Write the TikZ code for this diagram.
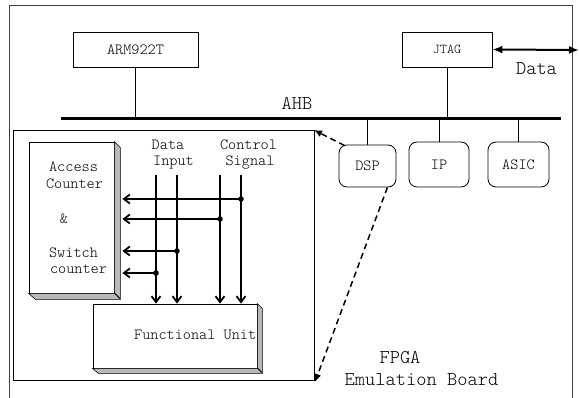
\documentclass[tikz,border=0pt]{standalone}
\usepackage{tikz}
\usetikzlibrary{arrows.meta,calc,positioning}
\newcommand{\thinmono}{\ttfamily\fontseries{l}\selectfont}
\tikzset{%
      plainbox/.style = { draw, line width=0.8pt, font=\thinmono\fontsize{15.5}{16}\selectfont },
      roundbox/.style = { plainbox, rounded corners=8pt, minimum height=45pt },
      solidbox/.style = { draw, fill=white, line width=0.8pt },
      sidefill/.style = { draw, fill=gray!55, line width=0.6pt },
           bus/.style = { line width=3pt },
          stub/.style = { line width=0.8pt },
           sig/.style = { line width=1.8pt, -{Straight Barb[length=6pt,width=9pt]} },
          link/.style = { line width=1.5pt, dash pattern=on 6pt off 4pt, -{Latex[length=8pt,width=7pt]} },
          dual/.style = { line width=2pt, {Latex[length=10pt,width=8pt]}-{Latex[length=10pt,width=8pt]} },
         small/.style = { font=\thinmono\fontsize{15.5}{16}\selectfont, inner sep=0pt },
         large/.style = { font=\thinmono\fontsize{19.5}{20}\selectfont, inner sep=0pt }
}

\begin{document}
\begin{tikzpicture}[x=1pt,y=-1pt,line cap=butt,line join=miter]
\useasboundingbox (0,0) rectangle (579,398);
% board frame (open at the bottom)
\draw[line width=0.9pt,black!75] (9,398) -- (9,5) -- (572,5) -- (572,398);

% top row
\node[plainbox,minimum width=125pt,minimum height=35pt] (arm) at (135.5,49.5) {ARM922T};
\node[plainbox,minimum width=90pt,minimum height=35pt,font=\thinmono\fontsize{13.5}{14}\selectfont] (jtag) at (447,49.5) {JTAG};
\coordinate (busL) at (61,119);
\coordinate (busR) at (561,119);
\draw[bus] (busL) -- (busR);
\node[large] (ahb) at (297,103) {AHB};
\draw[stub] (arm.south) -- (arm.south |- busL);
\draw[stub] (jtag.south) -- (jtag.south |- busL);
\coordinate (ext) at (579,50);
\draw[dual] (jtag.east) -- (ext);
\node[large] (data) at (536.5,69) {Data};

% cores hanging from the bus
\node[roundbox,minimum width=57pt,minimum height=42pt] (dsp) at (367.5,166) {DSP};
\node[roundbox,minimum width=60pt] (ip) at (439,164.5) {IP};
\node[roundbox,minimum width=61pt] (asic) at (518.5,164.5) {ASIC};
\draw[stub] (dsp.north |- busL) -- (dsp.north);
\draw[stub] (ip.north |- busL) -- (ip.north);
\draw[stub] (asic.north |- busL) -- (asic.north);

% detail of the DSP
\coordinate (dtl) at (13,130);
\coordinate (dbr) at (314,380);
\draw[line width=0.9pt] (dtl) rectangle (dbr);
\draw[link] ([xshift=6pt,yshift=-1pt]dsp.north west) -- (dtl -| dbr);
\draw[link] ([xshift=-9pt]dsp.south east) -- ([xshift=1pt,yshift=-2pt]dbr);

% counter block
\node[solidbox,minimum width=85pt,minimum height=151pt] (acc) at (71.5,217.5) {};
\fill[sidefill] (acc.north east) -- ++(6,6) -- ++(0,151) -- ++(-6,-6) -- cycle;
\fill[sidefill] (acc.south west) -- (acc.south east) -- ++(6,6) -- ++(-85,0) -- cycle;
\node[small] (t1) at (73.5,167) {Access};
\node[small] (t2) at (74.5,184) {Counter};
\node[small] (t3) at (64,219) {\&};
\node[small] (t4) at (73.5,253) {Switch};
\node[small] (t5) at (78.5,269) {counter};

% functional unit
\node[solidbox,minimum width=164pt,minimum height=64pt] (fu) at (175,336) {};
\fill[sidefill] (fu.north east) -- ++(5,5) -- ++(0,64) -- ++(-5,-5) -- cycle;
\fill[sidefill] (fu.south west) -- (fu.south east) -- ++(5,5) -- ++(-164,0) -- cycle;
\node[small,anchor=east] (fulbl) at ([xshift=-1pt,yshift=1pt]fu.east) {Functional Unit};

% data and control lines
\node[small] (lbl1) at (168,145) {Data};
\node[small] (lbl2) at (173.5,163) {Input};
\node[small] (lbl3) at (248.5,145) {Control};
\node[small] (lbl4) at (250,163) {Signal};
\coordinate (din1) at (156,175);
\coordinate (din2) at (177,175);
\coordinate (ctl1) at (220,175);
\coordinate (ctl2) at (241,175);
\foreach \l in {din1,din2,ctl1,ctl2}
  \draw[sig] (\l) -- (\l |- fu.north);

% taps back to the counters
\coordinate (tap1) at (241,199);
\coordinate (tap2) at (220,219);
\coordinate (tap3) at (177,251);
\coordinate (tap4) at (156,273);
\foreach \t in {tap1,tap2,tap3,tap4}{
  \draw[sig] (\t) -- ($(\t -| acc.east)+(8,0)$);
  \fill (\t) circle (2.8pt);
}

\node[large] (fpga) at (400,358) {FPGA};
\node[large] (board) at (421.5,380) {Emulation Board};
\end{tikzpicture}
\end{document}
